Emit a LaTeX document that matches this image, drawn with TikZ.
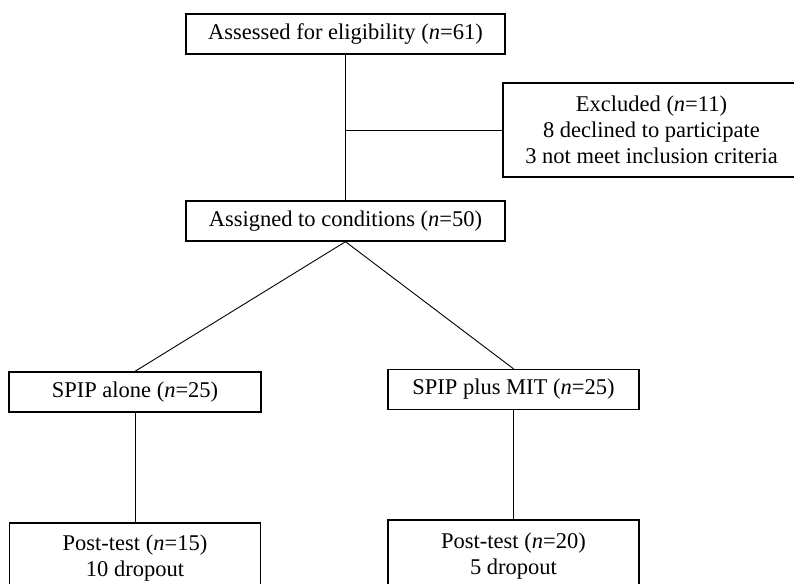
\documentclass[tikz,border=0pt]{standalone}
\usepackage{fontspec}
\setmainfont{Liberation Serif}
\begin{document}
\begin{tikzpicture}[x=0.5pt,y=-0.5pt,
	box/.style={draw,line width=0.7pt,minimum height=20pt,inner sep=0pt,
		align=center,font=\fontsize{11.25}{13}\selectfont},
	link/.style={line width=0.45pt}]
	\clip (0,0) rectangle (794,584);
	\node[box,minimum width=159.5pt] (elig) at (345.5,34)
		{Assessed for eligibility (\textit{n}=61)};
	\node[box,minimum width=148.5pt,minimum height=47pt] (excl) at (651.5,130)
		{Excluded (\textit{n}=11)\\8 declined to participate\\3 not meet inclusion criteria};
	\node[box,minimum width=159.5pt] (assign) at (345.5,221)
		{Assigned to conditions (\textit{n}=50)};
	\node[box,minimum width=126pt] (alone) at (135,392)
		{SPIP alone (\textit{n}=25)};
	\node[box,minimum width=125.5pt] (mit) at (513.5,389.5)
		{SPIP plus MIT (\textit{n}=25)};
	\node[box,minimum width=125.5pt,minimum height=35pt] (postA) at (135,558)
		{Post-test (\textit{n}=15)\\10 dropout};
	\node[box,minimum width=125.5pt,minimum height=36pt] (postB) at (513.5,556)
		{Post-test (\textit{n}=20)\\5 dropout};
	% connectors
	\draw[link] (elig.south) -- (assign.north);
	\draw[link] (excl.west -| elig.south) -- (excl.west);
	\draw[link] (assign.south) -- (alone.north);
	\draw[link] (assign.south) -- (mit.north);
	\draw[link] (alone.south) -- (postA.north);
	\draw[link] (mit.south) -- (postB.north);
\end{tikzpicture}
\end{document}
